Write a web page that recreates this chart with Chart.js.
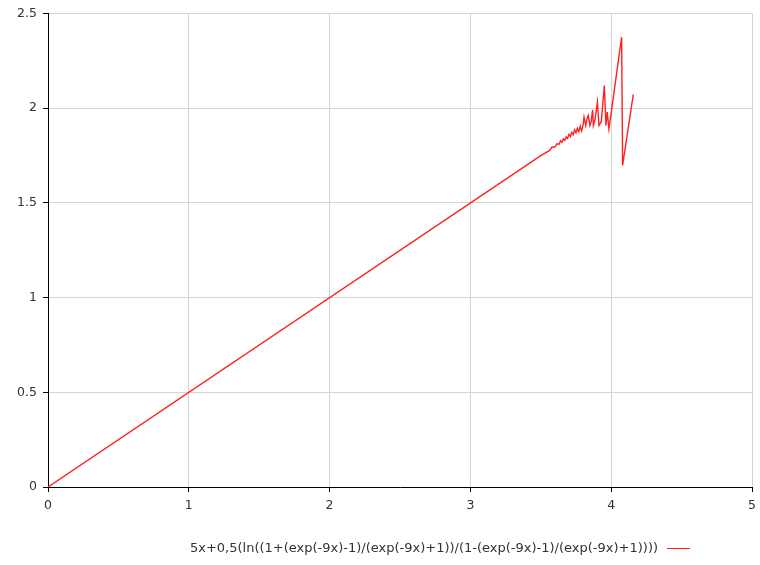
<!DOCTYPE html>
<html>
<head>
<meta charset="utf-8">
<script src="https://cdn.jsdelivr.net/npm/chart.js@4"></script>
<style>
  body { margin: 0; background: #fff; }
  #wrap { position: relative; width: 760px; height: 565px; }
  #legend {
    position: absolute; left: 0; right: 0; top: 540px;
    text-align: center; font: 13px "DejaVu Sans", Verdana, sans-serif; color: #333;
    padding-left: 120px;
  }
  #legend .swatch {
    display: inline-block; width: 23px; height: 0; border-top: 1.5px solid #ff2020;
    vertical-align: middle; margin-left: 9px;
  }
</style>
</head>
<body>
<div id="wrap">
  <canvas id="plot" width="760" height="565"></canvas>
  <div id="legend"><span id="legendText"></span><span class="swatch"></span></div>
</div>
<script>
var seriesLabel = '5x+0,5(ln((1+(exp(-9x)-1)/(exp(-9x)+1))/(1-(exp(-9x)-1)/(exp(-9x)+1))))';
var xValues = [0, 3.50, 3.56, 3.58, 3.60, 3.615, 3.63, 3.64, 3.65, 3.66, 3.67, 3.68, 3.69, 3.70, 3.71, 3.72,
               3.73, 3.74, 3.75, 3.76, 3.77, 3.78, 3.79, 3.80,
               3.807, 3.819, 3.83, 3.837, 3.849, 3.858, 3.868, 3.873, 3.885, 3.902, 3.913, 3.93, 3.951,
               3.963, 3.972, 3.984, 4.074, 4.081, 4.157];
var yValues = [0, 1.75, 1.776, 1.795, 1.795, 1.812, 1.81, 1.828, 1.82, 1.838, 1.83, 1.848, 1.84, 1.862, 1.85, 1.872,
               1.86, 1.885, 1.87, 1.895, 1.875, 1.905, 1.88, 1.91,
               1.953, 1.909, 1.95, 1.962, 1.909, 1.93, 1.992, 1.909, 1.94, 2.032, 1.909, 1.93, 2.12,
               1.909, 1.98, 1.89, 2.375, 1.698, 2.073];
var xTicks = [0, 1, 2, 3, 4, 5];
var yTicks = [0, 0.5, 1, 1.5, 2, 2.5];

document.getElementById('legendText').textContent = seriesLabel;

var points = xValues.map(function(x, i) { return { x: x, y: yValues[i] }; });

function plainLabel(value) {
    return String(value);
}

var ctx = document.getElementById('plot').getContext('2d');
new Chart(ctx, {
    type: 'scatter',
    data: {
        datasets: [{
            label: seriesLabel,
            data: points,
            showLine: true,
            borderColor: '#ff2020',
            borderWidth: 1.4,
            pointRadius: 0,
            tension: 0
        }]
    },
    options: {
        responsive: false,
        animation: false,
        layout: { padding: { top: 13, right: 8, bottom: 48, left: 0 } },
        plugins: {
            legend: { display: false },
            tooltip: { enabled: false }
        },
        scales: {
            x: {
                type: 'linear',
                min: 0, max: 5,
                afterBuildTicks: function(axis) { axis.ticks = xTicks.map(function(v) { return { value: v }; }); },
                afterFit: function(axis) { axis.height = 30; axis.paddingRight = 0; },
                ticks: { color: '#333', font: { family: 'DejaVu Sans', size: 12.5 }, padding: 6, maxRotation: 0, callback: plainLabel },
                grid: { color: '#d4d4d4', tickColor: '#000', tickLength: 5 },
                border: { color: '#000', width: 1 }
            },
            y: {
                type: 'linear',
                min: 0, max: 2.5,
                afterBuildTicks: function(axis) { axis.ticks = yTicks.map(function(v) { return { value: v }; }); },
                afterFit: function(axis) { axis.width = 48; },
                ticks: { color: '#333', font: { family: 'DejaVu Sans', size: 12.5 }, padding: 6, callback: plainLabel },
                grid: { color: '#d4d4d4', tickColor: '#000', tickLength: 5 },
                border: { color: '#000', width: 1 }
            }
        }
    }
});
</script>
</body>
</html>
